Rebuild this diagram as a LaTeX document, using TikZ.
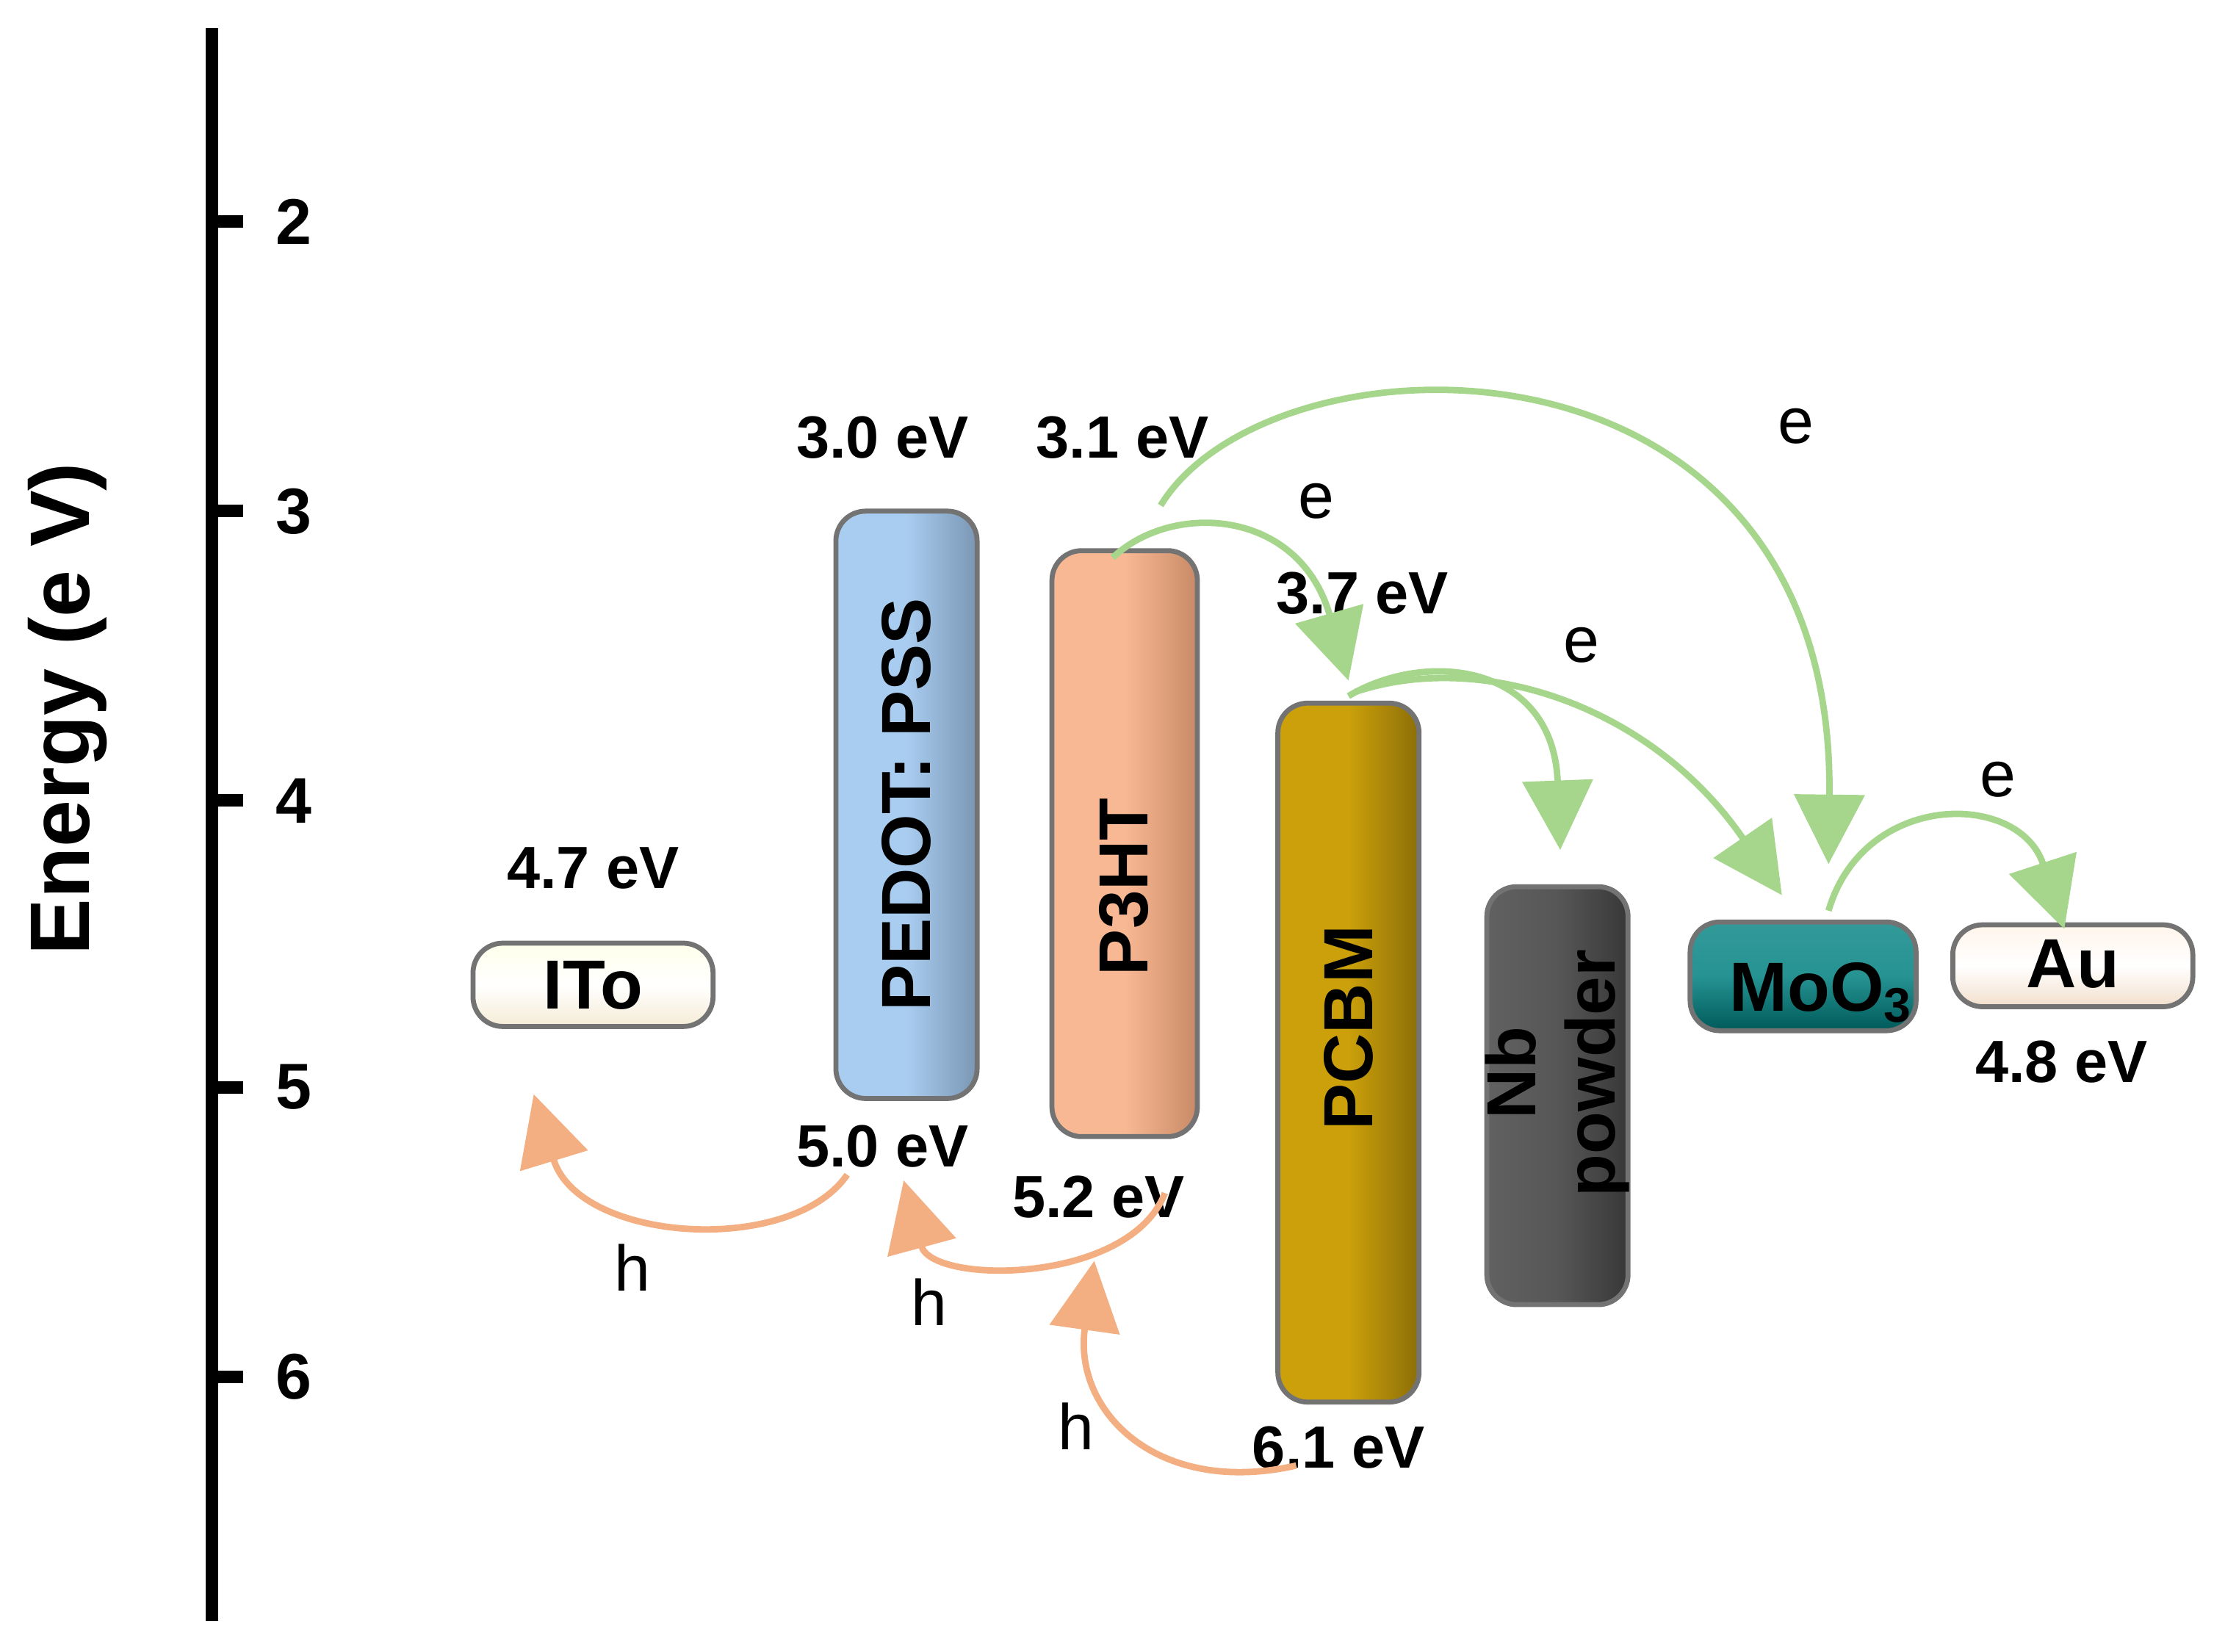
\documentclass[tikz,border=0pt]{standalone}
\usepackage{fontspec}
\setmainfont{Liberation Sans}
\usetikzlibrary{arrows.meta}
\definecolor{gr}{HTML}{A6D68C}
\definecolor{org}{HTML}{F3AF82}
\definecolor{pb}{HTML}{A9CDF0}
\definecolor{pbd}{HTML}{7A96B4}
\definecolor{ph}{HTML}{F9B894}
\definecolor{phd}{HTML}{C88A66}
\definecolor{gd}{HTML}{CCA00A}
\definecolor{gdd}{HTML}{8C6E08}
\begin{document}
\begin{tikzpicture}[x=0.01cm,y=-0.01cm,
 lab/.style={font=\bfseries\fontsize{12}{14}\selectfont},
 eh/.style={font=\fontsize{13}{15}\selectfont},
 bar/.style={rounded corners=6pt,draw=black!55,line width=1pt},
 ga/.style={draw=gr,line width=1.3pt,-{Triangle[length=14pt,width=14pt]}},
 oa/.style={draw=org,line width=1.3pt,-{Triangle[length=14pt,width=14pt]}}]
\useasboundingbox (0,0) rectangle (1568,1170);
% axis
\draw[line width=2.5pt] (150,20) -- (150,1148);
\foreach \y/\t in {157/2,362/3,567/4,770/5,975/6}{
 \draw[line width=2.5pt] (150,\y) -- (172,\y);
 \node[lab,font=\bfseries\fontsize{13}{15}\selectfont] (t\t) at (208,\y) {\t};}
\node[rotate=90,font=\bfseries\fontsize{17}{20}\selectfont] (ylab) at (48,502) {Energy (e V)};
% bars
\shade[bar,top color=yellow!8,bottom color=yellow!25!brown!20,middle color=white] (335,668) rectangle (505,727);
\node[lab,font=\bfseries\fontsize{14}{16}\selectfont] (ito) at (420,698) {ITo};
\shade[bar,left color=pb,right color=pbd,middle color=pb] (592,362) rectangle (692,778);
\node[lab,rotate=90,font=\bfseries\fontsize{14}{16}\selectfont] (pedot) at (642,570) {PEDOT: PSS};
\shade[bar,left color=ph,right color=phd,middle color=ph] (745,390) rectangle (848,805);
\node[lab,rotate=90,font=\bfseries\fontsize{14}{16}\selectfont] (p3ht) at (796,628) {P3HT};
\shade[bar,left color=gd,right color=gdd,middle color=gd] (905,498) rectangle (1005,993);
\node[lab,rotate=90,font=\bfseries\fontsize{14}{16}\selectfont] (pcbm) at (955,728) {PCBM};
\shade[bar,left color=black!62,right color=black!78,middle color=black!66] (1053,628) rectangle (1153,924);
\node[lab,rotate=90,align=center,font=\bfseries\fontsize{14}{16}\selectfont] (nb) at (1103,760) {Nb\\powder};
\shade[bar,top color=teal!80,bottom color=teal!70!black,middle color=teal!85] (1197,653) rectangle (1357,730);
\node[lab,font=\bfseries\fontsize{14}{16}\selectfont] (moo) at (1290,703) {MoO\textsubscript{3}};
\shade[bar,top color=orange!8,bottom color=orange!20!brown!25,middle color=white] (1383,655) rectangle (1553,713);
\node[lab,font=\bfseries\fontsize{14}{16}\selectfont] (au) at (1468,683) {Au};
% energies
\node[lab] (l1) at (625,310) {3.0 eV};
\node[lab] (l2) at (795,310) {3.1 eV};
\node[lab] (l3) at (965,420) {3.7 eV};
\node[lab] (l4) at (420,615) {4.7 eV};
\node[lab] (l5) at (1460,752) {4.8 eV};
\node[lab] (l6) at (625,812) {5.0 eV};
\node[lab] (l7) at (778,848) {5.2 eV};
\node[lab] (l8) at (948,1025) {6.1 eV};
% e/h
\node[eh] (e1) at (932,355) {e};
\node[eh] (e2) at (1272,302) {e};
\node[eh] (e3) at (1120,457) {e};
\node[eh] (e4) at (1415,552) {e};
\node[eh] (h1) at (448,898) {h};
\node[eh] (h2) at (658,922) {h};
\node[eh] (h3) at (762,1010) {h};
% coordinates
\coordinate (a1) at (788,395); \coordinate (b1) at (955,482);
\coordinate (a2) at (822,358); \coordinate (b2) at (1295,612);
\coordinate (a3) at (955,493); \coordinate (b3) at (1105,602);
\coordinate (a4) at (960,490); \coordinate (b4) at (1262,634);
\coordinate (a5) at (1295,645); \coordinate (b5) at (1462,658);
\coordinate (c1) at (600,832); \coordinate (d1) at (378,775);
\coordinate (c2) at (825,845); \coordinate (d2) at (640,836);
\coordinate (c3) at (918,1038); \coordinate (d3) at (775,893);
\draw[ga] (a1) .. controls (830,355) and (920,360) .. (b1);
\draw[ga] (a2) .. controls (900,230) and (1300,220) .. (b2);
\draw[ga] (a3) .. controls (1010,460) and (1100,470) .. (b3);
\draw[ga] (a4) .. controls (1050,460) and (1170,500) .. (b4);
\draw[ga] (a5) .. controls (1320,560) and (1430,560) .. (b5);
\draw[oa] (c1) .. controls (560,890) and (410,880) .. (d1);
\draw[oa] (c2) .. controls (800,910) and (660,910) .. (d2);
\draw[oa] (c3) .. controls (820,1060) and (760,1000) .. (d3);
\end{tikzpicture}
\end{document}
